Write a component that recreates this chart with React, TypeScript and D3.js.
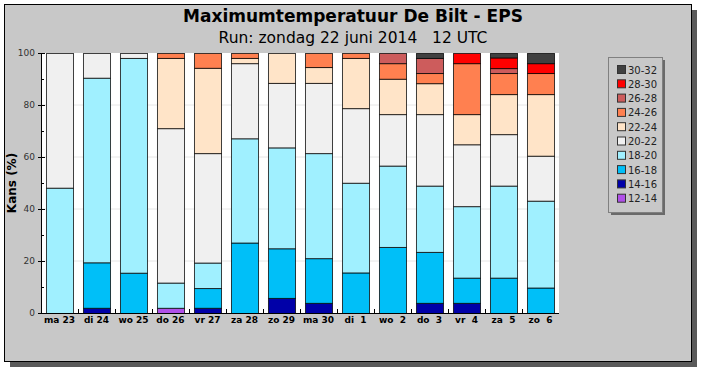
import React from "react";
import * as d3 from "d3";

const days = ["ma 23", "di 24", "wo 25", "do 26", "vr 27", "za 28", "zo 29", "ma 30", "di  1", "wo  2", "do  3", "vr  4", "za  5", "zo  6"];
const classes = ["12-14", "14-16", "16-18", "18-20", "20-22", "22-24", "24-26", "26-28", "28-30", "30-32"];
const colors = ["#b050e8", "#0000a8", "#00bff8", "#a0f0ff", "#f0f0f0", "#ffe4c8", "#ff8050", "#cd5c5c", "#ff0000", "#404040"];

const c12_14 = [0, 0, 0, 2, 0, 0, 0, 0, 0, 0, 0, 0, 0, 0];
const c14_16 = [0, 2, 0, 0, 2, 0, 5.8, 3.9, 0, 0, 3.9, 3.9, 0, 0];
const c16_18 = [0, 17.5, 15.5, 0, 7.6, 27.1, 19.1, 17.2, 15.6, 25.4, 19.6, 9.7, 13.6, 9.8];
const c18_20 = [48.2, 71, 82.6, 9.7, 9.8, 40.1, 38.8, 40.4, 34.5, 31.3, 25.5, 27.5, 35.4, 33.4];
const c20_22 = [51.8, 9.5, 1.9, 59.4, 42.1, 28.9, 24.8, 27, 28.7, 19.8, 27.5, 23.8, 19.8, 17.3];
const c22_24 = [0, 0, 0, 27, 32.8, 2, 11.5, 6.1, 19.3, 13.6, 11.9, 11.6, 15.4, 23.7];
const c24_26 = [0, 0, 0, 1.9, 5.7, 1.9, 0, 5.4, 1.9, 6, 3.9, 19.6, 8.1, 8.1];
const c26_28 = [0, 0, 0, 0, 0, 0, 0, 0, 0, 3.9, 5.8, 0, 1.9, 0];
const c28_30 = [0, 0, 0, 0, 0, 0, 0, 0, 0, 0, 0, 3.9, 4.1, 3.8];
const c30_32 = [0, 0, 0, 0, 0, 0, 0, 0, 0, 0, 1.9, 0, 1.7, 3.9];

const seriesValues = [c12_14, c14_16, c16_18, c18_20, c20_22, c22_24, c24_26, c26_28, c28_30, c30_32];
const yTicks = [0, 20, 40, 60, 80, 100];
const yMinor = [10, 30, 50, 70, 90];

export default function App() {
  const W = 703, H = 372;
  const left = 41, right = 559, top = 53, bottom = 313;
  const x = d3.scaleBand<string>().domain(days).range([left, right]).paddingInner(0.27).paddingOuter(0.135);
  const y = d3.scaleLinear().domain([0, 100]).range([bottom, top]);

  const table = days.map((d, i) => {
    const row: any = { day: d };
    classes.forEach((c, k) => (row[c] = seriesValues[k][i]));
    return row;
  });
  const stack = d3.stack<any>().keys(classes)(table);
  const step = x.step();
  const font = "'DejaVu Sans', Verdana, sans-serif";

  return (
    <svg width={W} height={H} style={{ position: "absolute", left: 0, top: 0 }} fontFamily={font}>
      <rect x={0} y={0} width={W} height={H} fill="#ffffff" />
      <rect x={10} y={10} width={687} height={357} fill="#5a5a5a" />
      <rect x={4.5} y={4.5} width={687} height={357} fill="#c8c8c8" stroke="#000" strokeWidth={1} />
      <text x={353} y={22} textAnchor="middle" fontSize={17} fontWeight="bold" fill="#000">
        Maximumtemperatuur De Bilt - EPS
      </text>
      <text x={353} y={43} textAnchor="middle" fontSize={15.5} fill="#000" style={{ whiteSpace: "pre" }}>
        {"Run: zondag 22 juni 2014   12 UTC"}
      </text>
      <rect x={left} y={top} width={right - left} height={bottom - top} fill="#ffffff" />
      {yTicks.filter((t) => t > 0 && t < 100).map((t) => (
        <line key={"g" + t} x1={left} x2={right} y1={y(t)} y2={y(t)} stroke="#e6e6e6" strokeWidth={1} />
      ))}
      {stack.map((s, k) => (
        <g key={classes[k]}>
          {s.map((seg, i) =>
            seg[1] - seg[0] > 0 ? (
              <rect
                key={i}
                x={(x(days[i]) as number) + 0.5}
                y={y(seg[1]) + 0.5}
                width={x.bandwidth()}
                height={Math.max(0, y(seg[0]) - y(seg[1]))}
                fill={colors[k]}
                stroke="#000"
                strokeOpacity={0.75}
                strokeWidth={1}
              />
            ) : null
          )}
        </g>
      ))}
      <line x1={left + 0.5} x2={left + 0.5} y1={top} y2={bottom} stroke="#000" />
      <line x1={left} x2={right} y1={bottom + 0.5} y2={bottom + 0.5} stroke="#000" />
      {yTicks.map((t) => (
        <g key={"t" + t}>
          <line x1={left - 3} x2={left + 4} y1={Math.round(y(t)) + 0.5} y2={Math.round(y(t)) + 0.5} stroke="#000" />
          <text x={left - 6} y={y(t) + 3} textAnchor="end" fontSize={9} fill="#333">
            {t}
          </text>
        </g>
      ))}
      {yMinor.map((t) => (
        <line key={"m" + t} x1={left} x2={left + 3} y1={Math.round(y(t)) + 0.5} y2={Math.round(y(t)) + 0.5} stroke="#000" />
      ))}
      {days.slice(1).map((d) => (
        <line key={"xt" + d} x1={Math.round((x(d) as number) - (step - x.bandwidth()) / 2) + 0.5} x2={Math.round((x(d) as number) - (step - x.bandwidth()) / 2) + 0.5} y1={bottom} y2={bottom - 4} stroke="#000" />
      ))}
      {days.map((d) => (
        <text key={"xl" + d} x={(x(d) as number) + x.bandwidth() / 2} y={323} textAnchor="middle" fontSize={9} fontWeight="bold" fill="#000" style={{ whiteSpace: "pre" }}>
          {d}
        </text>
      ))}
      <text transform={`translate(16,${(top + bottom) / 2}) rotate(-90)`} textAnchor="middle" fontSize={12} fontWeight="bold" fill="#000">
        Kans (%)
      </text>
      <rect x={611} y={60} width={54} height={155} fill="#6a6a6a" />
      <rect x={608.5} y={57.5} width={54} height={155} fill="#c8c8c8" stroke="#808080" />
      {classes.slice().reverse().map((c, j) => {
        const k = classes.length - 1 - j;
        const cy = 70 + j * 14.3;
        return (
          <g key={"lg" + c}>
            <rect x={617.5} y={cy - 4.5} width={8} height={8} fill={colors[k]} stroke="#333" />
            <text x={628} y={cy + 3.5} fontSize={10} fill="#222">
              {c}
            </text>
          </g>
        );
      })}
    </svg>
  );
}
